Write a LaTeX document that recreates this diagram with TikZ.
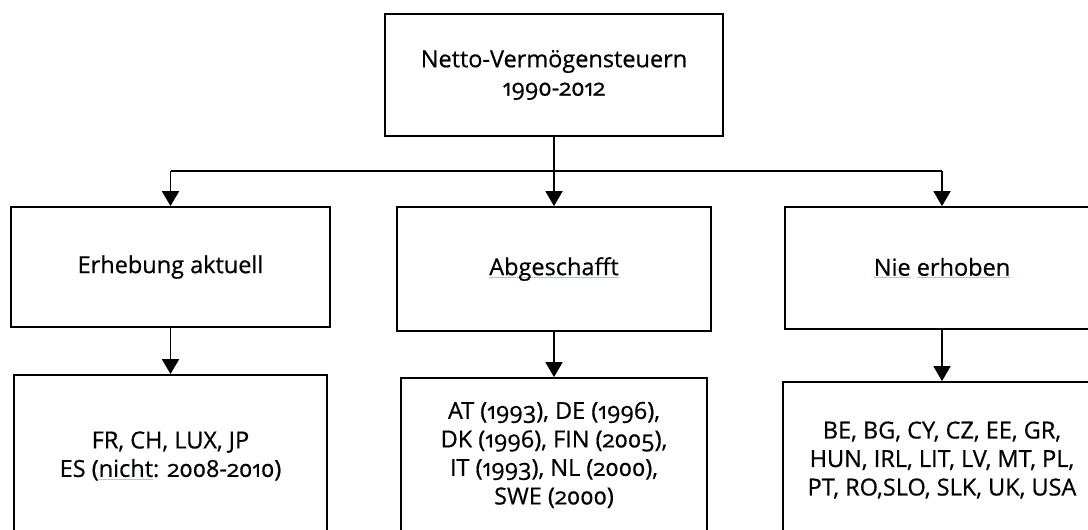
\documentclass[tikz,border=0pt]{standalone}
\usepackage{fontspec}
\setmainfont{Open Sans}[Numbers=OldStyle, FakeBold=0.6]
\usetikzlibrary{arrows.meta}

% faint spell-check underline
\newcommand\spellmark[1]{\setbox0\hbox{#1}\rlap{\textcolor{red!35}{\rule[-2.5pt]{\wd0}{0.8pt}}}\box0\relax}

\tikzset{
  box/.style={draw, line width=1.8pt, inner sep=0pt, align=center,
    font=\fontsize{23.5}{28.5}\selectfont},
  link/.style={line width=1.8pt},
  arr/.style={line width=1.8pt, -{Triangle[width=17pt,length=15pt]}}
}

\begin{document}
\begin{tikzpicture}[x=1pt, y=-1pt]
  \useasboundingbox (0,0) rectangle (1088,530);
  \clip (0,0) rectangle (1088,530);

  % root
  \node[box, minimum width=338pt, minimum height=122pt] (top) at (554,75)
    {Netto-Vermögensteuern\\1990-2012};

  % second level
  \node[box, minimum width=319pt, minimum height=120pt] (e1) at (170.5,267)
    {Erhebung aktuell};
  \node[box, minimum width=314pt, minimum height=124pt] (a1) at (554,269)
    {\spellmark{Abgeschafft}};
  \node[box, minimum width=314pt, minimum height=122pt] (n1) at (942,268)
    {\spellmark{Nie} \spellmark{erhoben}};

  % third level
  \node[box, minimum width=313pt, minimum height=162pt] (e2) at (170.5,456)
    {FR, CH, LUX, JP\\ES (\spellmark{nicht}: 2008-2010)};
  \node[box, minimum width=306pt, minimum height=154pt] (a2) at (554,455)
    {AT (1993), DE (1996),\\DK (1996), FIN (2005),\\IT (1993), NL (2000),\\SWE (2000)};
  \node[box, minimum width=318pt, minimum height=156pt] (n2) at (942,460)
    {BE, BG, CY, CZ, EE, GR,\\HUN, IRL, LIT, LV, MT, PL,\\PT, RO,SLO, SLK, UK, USA};

  % connectors
  \coordinate (j) at (554,171);
  \draw[link] (top.south) -- (j);
  \draw[link] (j -| e1.north) -- (j -| n1.north);
  \draw[arr] (j -| e1.north) -- (e1.north);
  \draw[arr] (j) -- (a1.north);
  \draw[arr] (j -| n1.north) -- (n1.north);
  \draw[arr] (e1.south) -- (e2.north);
  \draw[arr] (a1.south) -- (a2.north);
  \draw[arr] (n1.south) -- (n2.north);
\end{tikzpicture}
\end{document}
